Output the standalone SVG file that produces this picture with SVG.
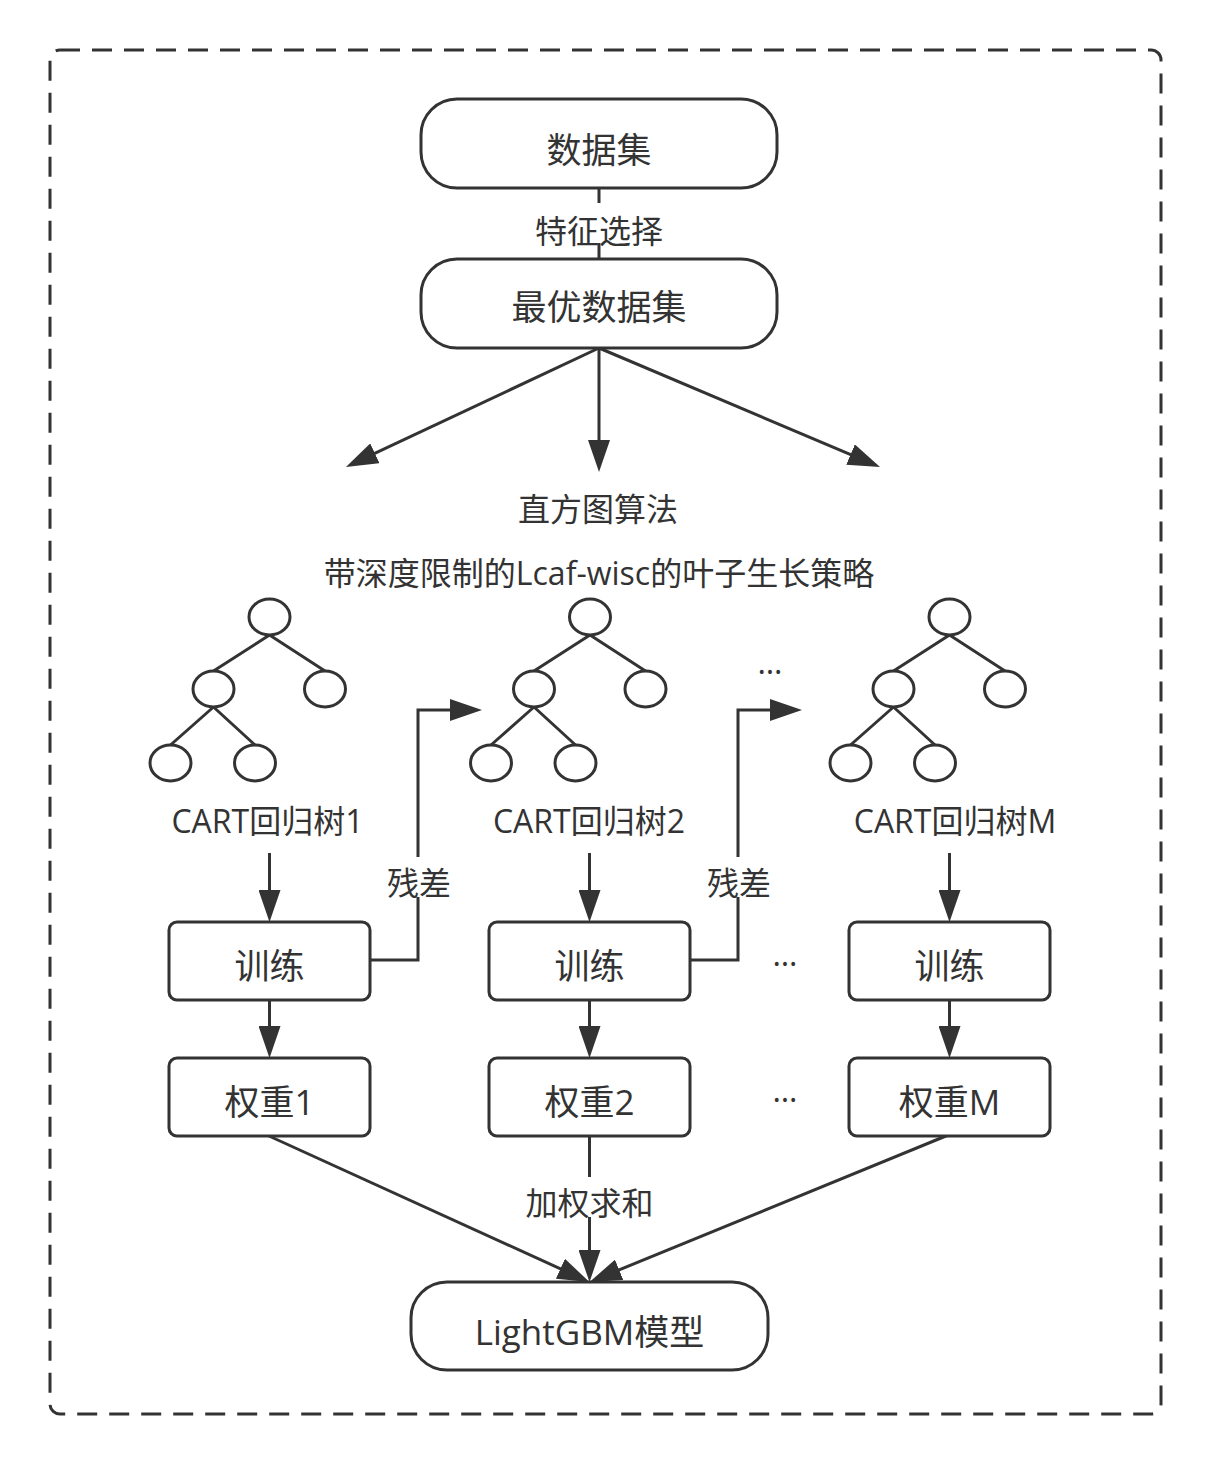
<svg xmlns="http://www.w3.org/2000/svg" width="1210" height="1466" viewBox="0 0 1210 1466">
<defs>
<style>
.ln{fill:none;stroke:#333;stroke-width:3}
.box{fill:#fff;stroke:#333;stroke-width:3}
.ci{fill:#fff;stroke:#333;stroke-width:3}
.t{font-family:'Open Sans','Noto Sans CJK SC',sans-serif;font-size:32px;fill:#333;text-anchor:middle}
.b{font-size:35px}
.arr{marker-end:url(#ah)}
</style>
<marker id="ah" markerUnits="userSpaceOnUse" markerWidth="32" markerHeight="22" refX="22" refY="11" orient="auto">
<path d="M0,0 L32,11 L0,22 z" fill="#333"/>
</marker>
</defs>
<rect width="1210" height="1466" fill="#fff"/>
<rect id="frame" x="50" y="50" width="1111" height="1364" rx="10" fill="none" stroke="#333" stroke-width="3" stroke-dasharray="20 12"/>

<g id="connectors">
<line class="ln" x1="599" y1="188" x2="599" y2="203"/>
<line class="ln" x1="599" y1="243" x2="599" y2="259"/>
<line class="ln arr" x1="599" y1="348" x2="355" y2="462.7"/>
<line class="ln arr" x1="599" y1="348" x2="599" y2="462"/>
<line class="ln arr" x1="599" y1="348" x2="870.8" y2="463.1"/>
<g id="tree-edges">
<path class="ln" d="M269.5,635 L213.5,671 M269.5,635 L325,671 M213.5,707 L170.5,745 M213.5,707 L255,745"/>
<path class="ln" d="M590,635 L534,671 M590,635 L645.5,671 M534,707 L491,745 M534,707 L575.5,745"/>
<path class="ln" d="M949.5,635 L893.5,671 M949.5,635 L1005,671 M893.5,707 L850.5,745 M893.5,707 L935,745"/>
</g>
<line class="ln arr" x1="269.5" y1="853" x2="269.5" y2="912"/>
<line class="ln arr" x1="589.5" y1="853" x2="589.5" y2="912"/>
<line class="ln arr" x1="949.5" y1="853" x2="949.5" y2="912"/>
<line class="ln arr" x1="269.5" y1="1000" x2="269.5" y2="1048"/>
<line class="ln arr" x1="589.5" y1="1000" x2="589.5" y2="1048"/>
<line class="ln arr" x1="949.5" y1="1000" x2="949.5" y2="1048"/>
<path class="ln" d="M370,960 H418 V897"/>
<path class="ln arr" d="M418,857 V710 H472"/>
<path class="ln" d="M690,960 H738 V897"/>
<path class="ln arr" d="M738,857 V710 H792"/>
<line class="ln" x1="589.5" y1="1136" x2="589.5" y2="1177"/>
<line class="ln arr" x1="589.5" y1="1217" x2="589.5" y2="1272"/>
<line class="ln arr" x1="269" y1="1136" x2="580.4" y2="1277.9"/>
<line class="ln arr" x1="963" y1="1129" x2="598.8" y2="1278.2"/>
</g>

<g id="n-dataset">
<rect class="box" x="421" y="99" width="356" height="89" rx="36"/>
<text class="t b" x="599" y="163">数据集</text>
</g>
<text class="t" x="599" y="243">特征选择</text>
<g id="n-optimal">
<rect class="box" x="421" y="259" width="356" height="89" rx="36"/>
<text class="t b" x="599" y="320">最优数据集</text>
</g>
<text class="t" x="598" y="521">直方图算法</text>
<text class="t" x="599" y="585">带深度限制的Lcaf-wisc的叶子生长策略</text>

<g id="tree1">
<ellipse class="ci" cx="269.5" cy="617" rx="20.5" ry="18"/>
<ellipse class="ci" cx="213.5" cy="689" rx="20.5" ry="18"/>
<ellipse class="ci" cx="325" cy="689" rx="20.5" ry="18"/>
<ellipse class="ci" cx="170.5" cy="763" rx="20.5" ry="18"/>
<ellipse class="ci" cx="255" cy="763" rx="20.5" ry="18"/>
<text class="t" x="267.5" y="833">CART回归树1</text>
</g>
<g id="tree2">
<ellipse class="ci" cx="590" cy="617" rx="20.5" ry="18"/>
<ellipse class="ci" cx="534" cy="689" rx="20.5" ry="18"/>
<ellipse class="ci" cx="645.5" cy="689" rx="20.5" ry="18"/>
<ellipse class="ci" cx="491" cy="763" rx="20.5" ry="18"/>
<ellipse class="ci" cx="575.5" cy="763" rx="20.5" ry="18"/>
<text class="t" x="589" y="833">CART回归树2</text>
</g>
<g id="treeM">
<ellipse class="ci" cx="949.5" cy="617" rx="20.5" ry="18"/>
<ellipse class="ci" cx="893.5" cy="689" rx="20.5" ry="18"/>
<ellipse class="ci" cx="1005" cy="689" rx="20.5" ry="18"/>
<ellipse class="ci" cx="850.5" cy="763" rx="20.5" ry="18"/>
<ellipse class="ci" cx="935" cy="763" rx="20.5" ry="18"/>
<text class="t" x="955" y="833">CART回归树M</text>
</g>
<text class="t" x="770" y="674">…</text>

<text class="t" x="419" y="895">残差</text>
<text class="t" x="739" y="895">残差</text>

<g id="n-train1"><rect class="box" x="169" y="922" width="201" height="78" rx="8"/><text class="t b" x="269.5" y="979">训练</text></g>
<g id="n-train2"><rect class="box" x="489" y="922" width="201" height="78" rx="8"/><text class="t b" x="589.5" y="979">训练</text></g>
<g id="n-trainM"><rect class="box" x="849" y="922" width="201" height="78" rx="8"/><text class="t b" x="949.5" y="979">训练</text></g>
<text class="t" x="785" y="966">…</text>

<g id="n-w1"><rect class="box" x="169" y="1058" width="201" height="78" rx="8"/><text class="t b" x="269.5" y="1115">权重1</text></g>
<g id="n-w2"><rect class="box" x="489" y="1058" width="201" height="78" rx="8"/><text class="t b" x="589.5" y="1115">权重2</text></g>
<g id="n-wM"><rect class="box" x="849" y="1058" width="201" height="78" rx="8"/><text class="t b" x="949.5" y="1115">权重M</text></g>
<text class="t" x="785" y="1102">…</text>

<text class="t" x="589.5" y="1215">加权求和</text>
<g id="n-model">
<rect class="box" x="411" y="1282" width="357" height="88" rx="36"/>
<text class="t b" x="589.5" y="1345">LightGBM模型</text>
</g>
</svg>
